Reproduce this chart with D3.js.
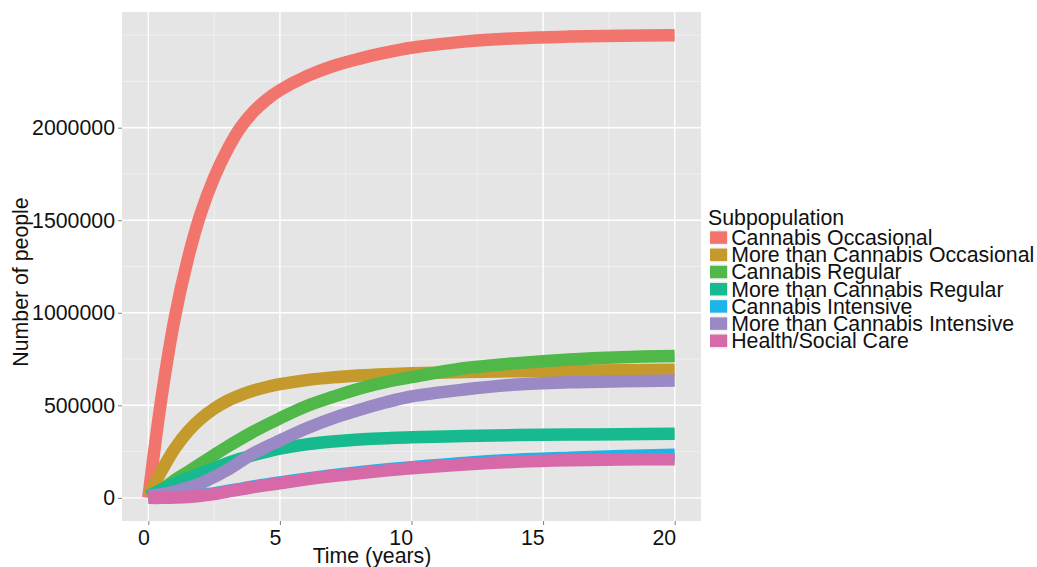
<!DOCTYPE html>
<html>
<head>
<meta charset="utf-8">
<script src="https://cdn.jsdelivr.net/npm/d3@7"></script>
<style>
  html, body { margin: 0; padding: 0; background: #fff; }
  svg { display: block; font-family: 'Liberation Sans', Arial, Helvetica, sans-serif; }
</style>
</head>
<body>
<svg id="chart" width="1037" height="567"></svg>
<script>
// time points (years) the curves were read at
const times = [0, 0.5, 1, 1.5, 2, 2.5, 3, 3.5, 4, 4.5, 5, 6, 7, 8, 9, 10, 12, 14, 16, 18, 20]

const subpops = [
  'Cannabis Occasional',
  'More than Cannabis Occasional',
  'Cannabis Regular',
  'More than Cannabis Regular',
  'Cannabis Intensive',
  'More than Cannabis Intensive',
  'Health/Social Care'
]

const cannabisOccasional = [0, 540000, 970000, 1290000, 1540000, 1730000, 1880000, 2000000, 2087000, 2152000, 2202000, 2277000, 2332000, 2372000, 2405000, 2432000, 2465000, 2483000, 2492000, 2497000, 2500000]
const moreOccasional = [10000, 145000, 265000, 358000, 428000, 482000, 524000, 555000, 580000, 599000, 614000, 636000, 651000, 661000, 668000, 673000, 680000, 684000, 687000, 690000, 692000]
const cannabisRegular = [10000, 45000, 95000, 140000, 186000, 231000, 276000, 318000, 358000, 395000, 430000, 495000, 545000, 590000, 625000, 652000, 700000, 728000, 748000, 760000, 767000]
const moreRegular = [10000, 45000, 78000, 106000, 133000, 160000, 187000, 211000, 232000, 250000, 266000, 289000, 304000, 315000, 322000, 328000, 334000, 339000, 342000, 344000, 346000]
const cannabisIntensive = [10000, 10000, 11000, 13000, 17000, 24000, 37000, 49000, 62000, 73000, 84000, 104000, 122000, 138000, 153000, 166000, 189000, 206000, 217000, 226000, 233000]
const moreIntensive = [10000, 20000, 34000, 55000, 79000, 113000, 151000, 196000, 241000, 277000, 310000, 375000, 430000, 475000, 515000, 548000, 585000, 612000, 624000, 630000, 634000]
const healthSocial = [0, 0, 2000, 5000, 11000, 20000, 34000, 46000, 58000, 69000, 79000, 100000, 118000, 133000, 147000, 160000, 180000, 195000, 203000, 207000, 209000]

const seriesValues = [cannabisOccasional, moreOccasional, cannabisRegular, moreRegular, cannabisIntensive, moreIntensive, healthSocial]
const colors = ['#F2756D', '#C49A2C', '#4FB848', '#17BA8E', '#1DB4EA', '#9A89C4', '#D869A8']

const xTicks = [0, 5, 10, 15, 20]
const yTicks = [0, 500000, 1000000, 1500000, 2000000]
const xMinor = [2.5, 7.5, 12.5, 17.5]
const yMinor = [250000, 750000, 1250000, 1750000, 2250000, 2500000]

const svg = d3.select('#chart')
const panel = { left: 122, right: 701, top: 12, bottom: 521 }
const fontSize = 21.3

const x = d3.scaleLinear().domain([-1, 21]).range([panel.left, panel.right])
const y = d3.scaleLinear().domain([-125000, 2625000]).range([panel.bottom, panel.top])

// panel background + grid
svg.append('rect')
  .attr('x', panel.left)
  .attr('y', panel.top)
  .attr('width', panel.right - panel.left)
  .attr('height', panel.bottom - panel.top)
  .attr('fill', '#E5E5E5')

const grid = svg.append('g')
grid.selectAll('.ymin').data(yMinor).enter().append('line')
  .attr('x1', panel.left).attr('x2', panel.right)
  .attr('y1', d => y(d)).attr('y2', d => y(d))
  .attr('stroke', '#F2F2F2').attr('stroke-width', 0.8)
grid.selectAll('.xmin').data(xMinor).enter().append('line')
  .attr('y1', panel.top).attr('y2', panel.bottom)
  .attr('x1', d => x(d)).attr('x2', d => x(d))
  .attr('stroke', '#F2F2F2').attr('stroke-width', 0.8)
grid.selectAll('.ymaj').data(yTicks).enter().append('line')
  .attr('x1', panel.left).attr('x2', panel.right)
  .attr('y1', d => y(d)).attr('y2', d => y(d))
  .attr('stroke', '#fff').attr('stroke-width', 1.4)
grid.selectAll('.xmaj').data(xTicks).enter().append('line')
  .attr('y1', panel.top).attr('y2', panel.bottom)
  .attr('x1', d => x(d)).attr('x2', d => x(d))
  .attr('stroke', '#fff').attr('stroke-width', 1.4)

// curves
const line = d3.line()
  .x((d, i) => x(times[i]))
  .y(d => y(d))
  .curve(d3.curveCatmullRom.alpha(0.5))

svg.append('g')
  .selectAll('path')
  .data(seriesValues)
  .enter()
  .append('path')
  .attr('d', d => line(d))
  .attr('fill', 'none')
  .attr('stroke', (d, i) => colors[i])
  .attr('stroke-width', 12.5)
  .attr('stroke-linecap', 'butt')
  .attr('stroke-linejoin', 'round')

// axes
const xAxis = svg.append('g')
  .attr('transform', `translate(0,${panel.bottom})`)
  .call(d3.axisBottom(x).tickValues(xTicks).tickSize(4).tickPadding(5).tickFormat(d3.format('d')))
const yAxis = svg.append('g')
  .attr('transform', `translate(${panel.left},0)`)
  .call(d3.axisLeft(y).tickValues(yTicks).tickSize(4).tickPadding(3).tickFormat(d3.format('d')))

for (const ax of [xAxis, yAxis]) {
  ax.select('.domain').remove()
  ax.selectAll('.tick line').attr('stroke', '#7F7F7F')
  ax.selectAll('.tick text')
    .attr('fill', '#111')
    .attr('font-size', fontSize)
    .attr('font-family', "'Liberation Sans', Arial, sans-serif")
}
xAxis.selectAll('.tick text').attr('text-anchor', 'end').attr('x', 1)

// axis titles
svg.append('text')
  .attr('x', 372)
  .attr('y', 563)
  .attr('text-anchor', 'middle')
  .attr('font-size', fontSize)
  .attr('fill', '#111')
  .text('Time (years)')

svg.append('text')
  .attr('transform', `translate(28,${282}) rotate(-90)`)
  .attr('text-anchor', 'middle')
  .attr('font-size', fontSize)
  .attr('fill', '#111')
  .text('Number of people')

// legend
const keySize = 17.2
const legend = svg.append('g').attr('transform', 'translate(710,229)')
legend.append('text')
  .attr('x', -2)
  .attr('y', -4)
  .attr('font-size', fontSize)
  .attr('fill', '#111')
  .text('Subpopulation')

const rows = legend.selectAll('.row')
  .data(subpops)
  .enter()
  .append('g')
  .attr('transform', (d, i) => `translate(0,${i * keySize})`)

rows.append('rect')
  .attr('width', keySize)
  .attr('height', keySize)
  .attr('fill', '#F2F2F2')
  .attr('stroke', '#fff')
  .attr('stroke-width', 1)
rows.append('line')
  .attr('x1', 0).attr('x2', keySize)
  .attr('y1', keySize / 2).attr('y2', keySize / 2)
  .attr('stroke', (d, i) => colors[i])
  .attr('stroke-width', 12.5)
rows.append('text')
  .attr('x', keySize + 4)
  .attr('y', keySize / 2)
  .attr('dy', '0.35em')
  .attr('font-size', fontSize)
  .attr('fill', '#111')
  .text(d => d)
</script>
</body>
</html>
